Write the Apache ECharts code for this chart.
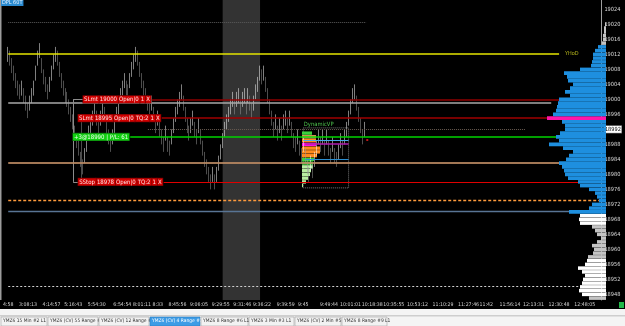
<!DOCTYPE html>
<html><head><meta charset="utf-8">
<script src="https://cdn.jsdelivr.net/npm/echarts@6/dist/echarts.min.js"></script>
<style>html,body{margin:0;padding:0;background:#000;}#c{width:625px;height:326px;}</style>
</head><body><div id="c"></div>
<script>
// ---------- data ----------
const xTickLabels = ['4:58','3:08:13','4:14:57','5:16:43','5:54:30','6:54:54','8:01:11','8:33','8:45:56','9:06:05','9:29:55','9:31:46','9:36:22','9:39:59','9:45','9:49:44','10:01:01','10:18:38','10:35:55','10:53:12','11:10:29','11:27:46','11:42','11:56:14','12:13:31','12:30:48','12:48:05'];
const xTickSlots = [0,10,22,33,45,58,68,76,86,97,108,119,129,141,150,163,174,185,196,208,221,234,243,255,267,280,293];
const slotCount = 302;
const yTickLabels = [19024,19020,19016,19012,19008,19004,19000,18996,18992,18988,18984,18980,18976,18972,18968,18964,18960,18956,18952,18948];
const priceMin = 18946.5, priceMax = 19026.5;
const highlightPrice = 18992;

// 4-range bars: [open, close, low, high]
const ohlc = [
[19011,19014,19010,19014],[19012,19009,19009,19013],[19010,19007,19007,19011],[19008,19005,19005,19009],[19006,19003,19003,19007],
[19004,19001,19001,19005],[19003,19000,19000,19004],[19002,19005,19001,19005],[19002,18999,18999,19003],[19000,18997,18997,19001],
[18998,18995,18995,18999],[18998,19001,18997,19001],[19000,19003,18999,19003],[19002,19005,19001,19005],[19006,19009,19005,19009],
[19010,19013,19009,19013],[19012,19015,19011,19015],[19010,19007,19007,19011],[19007,19004,19004,19008],[19005,19002,19002,19006],
[19003,19000,19000,19004],[19003,19006,19002,19006],[19006,19009,19005,19009],[19009,19012,19008,19012],[19011,19014,19010,19014],
[19012,19009,19009,19013],[19009,19006,19006,19010],[19006,19003,19003,19007],[19004,19001,19001,19005],[19002,18999,18999,19003],
[19001,18998,18998,19002],[18999,18996,18996,19000],[18997,18994,18994,18998],[18995,18992,18992,18996],[18992,18989,18989,18993],
[18990,18987,18987,18991],[18988,18985,18985,18989],[18985,18982,18982,18986],[18983,18980,18980,18984],[18984,18987,18983,18987],
[18987,18990,18986,18990],[18990,18993,18989,18993],[18992,18995,18991,18995],[18994,18997,18993,18997],[18996,18999,18995,18999],
[18996,18993,18993,18997],[18994,18991,18991,18995],[18994,18997,18993,18997],[18997,19000,18996,19000],[18997,18994,18994,18998],
[18994,18991,18991,18995],[18991,18988,18988,18992],[18989,18986,18986,18990],[18989,18992,18988,18992],[18992,18995,18991,18995],
[18995,18998,18994,18998],[18997,19000,18996,19000],[19000,19003,18999,19003],[19002,19005,19001,19005],[19004,19007,19003,19007],
[19004,19001,19001,19005],[19003,19000,19000,19004],[19004,19007,19003,19007],[19007,19010,19006,19010],[19009,19012,19008,19012],
[19011,19014,19010,19014],[19012,19009,19009,19013],[19009,19006,19006,19010],[19006,19003,19003,19007],[19004,19001,19001,19005],
[19002,18999,18999,19003],[19000,18997,18997,19001],[18998,18995,18995,18999],[18998,19001,18997,19001],[18997,18994,18994,18998],
[18994,18991,18991,18995],[18994,18997,18993,18997],[18993,18990,18990,18994],[18991,18988,18988,18992],[18989,18986,18986,18990],
[18990,18993,18989,18993],[18989,18986,18986,18990],[18988,18985,18985,18989],[18989,18992,18988,18992],[18992,18995,18991,18995],
[18995,18998,18994,18998],[18997,19000,18996,19000],[18999,19002,18998,19002],[19001,19004,19000,19004],[19000,18997,18997,19001],
[18997,18994,18994,18998],[18994,18991,18991,18995],[18992,18989,18989,18993],[18992,18995,18991,18995],[18994,18997,18993,18997],
[18993,18990,18990,18994],[18991,18988,18988,18992],[18992,18995,18991,18995],[18991,18988,18988,18992],[18988,18985,18985,18989],
[18985,18982,18982,18986],[18983,18980,18980,18984],[18981,18978,18978,18982],[18979,18976,18976,18980],[18979,18982,18978,18982],
[18979,18976,18976,18980],[18979,18982,18978,18982],[18982,18985,18981,18985],[18985,18988,18984,18988],[18988,18991,18987,18991],
[18991,18994,18990,18994],[18993,18996,18992,18996],[18995,18998,18994,18998],[18997,19000,18996,19000],[18999,19002,18998,19002],
[18999,18996,18996,19000],[18999,19002,18998,19002],[19000,19003,18999,19003],[18999,18996,18996,19000],[18999,19002,18998,19002],
[19000,19003,18999,19003],[18999,18996,18996,19000],[19000,19003,18999,19003],[19000,18997,18997,19001],[18998,18995,18995,18999],
[18998,19001,18997,19001],[19001,19004,19000,19004],[19003,19006,19002,19006],[19006,19009,19005,19009],[19007,19004,19004,19008],
[19006,19009,19005,19009],[19005,19002,19002,19006],[19002,18999,18999,19003],[18999,18996,18996,19000],[18996,18993,18993,18997],
[18993,18990,18990,18994],[18993,18996,18992,18996],[18992,18989,18989,18993],[18992,18995,18991,18995],[18992,18989,18989,18993],
[18993,18996,18992,18996],[18994,18997,18993,18997],[18994,18991,18991,18995],[18994,18997,18993,18997],[18993,18990,18990,18994],
[18990,18987,18987,18991],[18989,18986,18986,18990],[18989,18992,18988,18992],[18988,18985,18985,18989],[18986,18983,18983,18987],
[18987,18990,18986,18990],[18986,18983,18983,18987],[18983,18980,18980,18984],[18981,18978,18978,18982],[18982,18985,18981,18985],
[18982,18979,18979,18983],[18983,18986,18982,18986],[18986,18989,18985,18989],[18989,18992,18988,18992],[18989,18986,18986,18990],
[18989,18992,18988,18992],[18988,18985,18985,18989],[18989,18992,18988,18992],[18988,18985,18985,18989],[18986,18983,18983,18987],
[18987,18990,18986,18990],[18986,18983,18983,18987],[18985,18982,18982,18986],[18985,18988,18984,18988],[18988,18991,18987,18991],
[18988,18985,18985,18989],[18989,18992,18988,18992],[18991,18994,18990,18994],[18994,18997,18993,18997],[18997,19000,18996,19000],
[19000,19003,18999,19003],[19001,19004,19000,19004],[19000,18997,18997,19001],[18997,18994,18994,18998],[18994,18991,18991,18995],
[18991,18988,18988,18992],[18991,18994,18990,18994]
];

// session volume profile (right)
const vpPrices  = [19020,19019,19018,19017,19016,19015,19014,19013,19012,19011,19010,19009,19008,19007,19006,19005,19004,19003,19002,19001,19000,18999,18998,18997,18996,18995,18994,18993,18992,18991,18990,18989,18988,18987,18986,18985,18984,18983,18982,18981,18980,18979,18978,18977,18976,18975,18974,18973,18972,18971,18970,18969,18968,18967,18966,18965,18964,18963,18962,18961,18960,18959,18958,18957,18956,18955,18954,18953,18952,18951,18950,18949,18948,18947];
const vpVolumes = [1,2,2,3,3,4,8,11,13,13,14,15,26,42,39,38,33,36,41,36,47,48,49,50,53,59,44,41,41,46,50,47,57,43,33,37,40,47,44,42,41,38,28,26,17,11,9,7,14,17,37,26,27,26,14,11,9,5,9,14,12,13,18,19,21,28,24,21,23,24,26,27,24,17];
const vpKinds   = ['s','s','s','s','s','s','b','b','b','b','b','b','b','b','b','b','b','b','b','b','b','b','b','b','b','p','b','b','b','b','b','b','b','b','b','b','b','b','b','b','b','b','b','b','b','b','b','b','b','b','b','w','w','w','s','s','s','s','s','s','s','s','s','w','w','w','w','w','w','w','w','w','w','s'];

// DynamicVP (small profile)
const dvpPrices  = [18991,18990,18989,18988,18987,18986,18985,18984,18983,18982,18981,18980,18979,18978,18977];
const dvpVolumes = [10,14,14,14,18,18,15,12,11,11,9,8,6,4,1];
const dvpKinds   = ['g','pe','o','m','o','o','o','g','g','lg','lg','lg','lg','lg','lg'];

const tabNames = ['YMZ6 15 Min #2 L1','YMZ6 (CV) 55 Range #7','YMZ6 (CV) 12 Range #6','YMZ6 (CV) 4 Range #1','YMZ6 8 Range #6 L1','YMZ6 3 Min #3 L1','YMZ6 (CV) 2 Min #5','YMZ6 8 Range #9 L1'];
const activeTab = 3;

// ---------- build ----------
const F = "'Liberation Sans Narrow','DejaVu Sans Condensed','Liberation Sans',sans-serif";
const cats = []; const labelAt = {};
for (let i = 0; i < slotCount; i++) cats.push('s' + i);
xTickSlots.forEach((s, k) => { labelAt[s] = xTickLabels[k]; });
const lvls = []; for (let p = 18947; p <= 19026; p++) lvls.push(String(p));

const vpColor = {b:'#1e8fdf', p:'#ff16a8', w:'#ffffff', s:'#c4c4c4'};
const vpData = lvls.map(l => {
  const k = vpPrices.indexOf(+l);
  if (k < 0) return null;
  return {value: vpVolumes[k], itemStyle:{color: vpColor[vpKinds[k]]}};
});
const dvpColor = {g:'#3ccf3c', pe:'#ffb060', o:'#ff8a1c', m:'#ff10e0', lg:'#b8eea0'};
const dvpData = lvls.map(l => {
  const k = dvpPrices.indexOf(+l);
  if (k < 0) return null;
  return {value: dvpVolumes[k], itemStyle:{color: dvpColor[dvpKinds[k]]}};
});

const cell = (bg, fg, bd) => ({backgroundColor:bg, color:fg, borderColor:bd, borderWidth:0.6, padding:[1,1,0,1], fontSize:6, lineHeight:7, fontFamily:F});
const orderRich = {r: cell('#d00000','#ffe4e4','#6a0000'), g: cell('#12d012','#f0fff0','#086008')};
const seg = (p, x1, x2, color, width, type, extra) => {
  const a = Object.assign({coord:[x1, p], lineStyle:{color:color, width:width, type:type || 'solid'}}, extra || {});
  return [a, {coord:[x2, p]}];
};
const vseg = (x, p1, p2, color) => [{coord:[x, p1], lineStyle:{color:color, width:1, type:'solid'}}, {coord:[x, p2]}];
const orderLabel = (txt) => ({label:{show:true, position:'start', distance:1, formatter:txt, rich:orderRich}});

const levelLines = [
  seg(19020.6, 0, 182, '#5c5c5c', 1, 'dotted'),
  seg(19012.1, 0, 280, '#e4e400', 1.5, 'solid', {label:{show:true, position:'end', distance:6, formatter:'YHoD', color:'#b8b81c', fontSize:5.5, fontFamily:F}}),
  seg(18999.05, 0, 276, '#a8a8a8', 1.5),
  seg(19000, 73, 301, '#8e0000', 1.5, 'solid', orderLabel('{r|SLmt}{r|19000}{r|Open|0}{r|1}{r|X}')),
  seg(18995, 78, 301, '#a00000', 1.5, 'solid', orderLabel('{r|SLmt}{r|18995}{r|Open|0}{r|TQ:2}{r|1}{r|X}')),
  seg(18992.1, 71, 263, '#6a5c52', 1, 'dotted'),
  seg(18990, 62, 301, '#00d400', 1.5, 'solid', orderLabel('{g|+3@18990 | P/L: 61}')),
  seg(18978, 79, 301, '#e00000', 1.2, 'solid', orderLabel('{r|SStop}{r|18978}{r|Open|0}{r|TQ:2}{r|1}{r|X}')),
  seg(18973.2, 0, 301, '#ff9a3c', 1.3, [3,2]),
  seg(18970.2, 0, 301, '#587494', 1.3),
  seg(18950.2, 0, 301, '#d0d0d0', 1, [2,2]),
  seg(18989.2, 150, 173, '#48a8e8', 1),
  seg(18988.3, 151, 173, '#b01cb0', 1.5),
  seg(18984.0, 151, 173, '#2c8ed0', 1),
  seg(18989.3, 182, 183, '#ff2020', 1.5),
  vseg(33, 19000, 18978, '#8c8c8c'),
  seg(19000, 33, 38, '#8c8c8c', 1),
  seg(18978, 33, 38, '#8c8c8c', 1),
  vseg(37, 18995, 18978, '#4a4a4a'),
  seg(18995, 37, 38, '#4a4a4a', 1)
];

const chart = echarts.init(document.getElementById('c'), null, {renderer:'canvas'});
const tabGraphics = [];
let tx = 1;
const tabW = [47,51,51,51,48,46,47,46];
tabNames.forEach((n, i) => {
  const act = i === activeTab;
  tabGraphics.push({type:'rect', shape:{x:tx, y:317, width:tabW[i]-1, height:9}, style:{fill: act ? '#3d9ce6' : '#f2f2f2', stroke: act ? '#2a7cc0' : '#a4a4a4', lineWidth:0.6}, silent:true});
  tabGraphics.push({type:'text', x: tx + 2, y: 318.5, style:{text:n, fill: act ? '#ffffff' : '#303030', font:'4.9px ' + F}, silent:true});
  tx += tabW[i];
});

chart.setOption({
  backgroundColor:'#000000',
  animation:false,
  grid:[
    {left:2, right:19, top:0, height:300},
    {left:506, right:19, top:0, height:300},
    {left:302, width:50, top:0, height:300}
  ],
  xAxis:[
    {gridIndex:0, type:'category', data:cats, boundaryGap:true,
     axisLine:{show:false}, axisTick:{show:false}, splitLine:{show:false},
     axisLabel:{interval:(i) => labelAt[i] !== undefined, formatter:(v, i) => labelAt[i] || '', color:'#d4d4d4', fontSize:5.2, fontFamily:F, margin:2, hideOverlap:false}},
    {gridIndex:1, type:'value', min:0, max:100, inverse:true, show:false},
    {gridIndex:2, type:'value', min:0, max:50, show:false}
  ],
  yAxis:[
    {gridIndex:0, type:'value', position:'right', min:priceMin, max:priceMax,
     axisLine:{show:true, lineStyle:{color:'#a0a0a0', width:1}}, axisTick:{show:false}, splitLine:{show:false},
     axisLabel:{customValues:yTickLabels, margin:3, color:'#dcdcdc', fontSize:5.6, fontFamily:F,
       formatter:(v) => v === highlightPrice ? '{hl|' + v + '}' : String(v),
       rich:{hl:{backgroundColor:'#ffffff', color:'#000000', borderColor:'#606060', borderWidth:0.6, padding:[1,0.5,0,0.5], fontSize:5.6, fontFamily:F}}}},
    {gridIndex:1, type:'category', data:lvls, show:false},
    {gridIndex:2, type:'category', data:lvls, show:false}
  ],
  series:[
    {name:'shade', type:'line', xAxisIndex:0, yAxisIndex:0, data:[], z:1, silent:true,
     markArea:{silent:true, data:[
       [{coord:[109, priceMax], itemStyle:{color:'#333333'}}, {coord:[128, priceMin]}],
       [{coord:[150, 18992.4], itemStyle:{color:'rgba(0,0,0,0)', borderColor:'#7a7a7a', borderWidth:1, borderType:'dotted'}}, {coord:[173, 18976.4]}]
     ]},
     markPoint:{silent:true, symbol:'rect', symbolSize:1, itemStyle:{color:'rgba(0,0,0,0)'},
       data:[{coord:[150, 18993.4], label:{show:true, position:'right', distance:0, formatter:'DynamicVP', color:'#4cc04c', fontSize:5.8, fontFamily:F}}]}},
    {name:'dvp', type:'bar', xAxisIndex:2, yAxisIndex:2, data:dvpData, barCategoryGap:'10%', z:2, silent:true},
    {name:'price', type:'candlestick', xAxisIndex:0, yAxisIndex:0, data:ohlc, barWidth:1, z:3, silent:true,
     itemStyle:{color:'#ffffff', color0:'#9a9a9a', borderColor:'#ffffff', borderColor0:'#9a9a9a', borderWidth:0.5}},
    {name:'levels', type:'line', xAxisIndex:0, yAxisIndex:0, data:[], z:4, silent:true,
     markLine:{silent:true, symbol:['none','none'], label:{show:false}, data:levelLines}},
    {name:'profile', type:'bar', xAxisIndex:1, yAxisIndex:1, data:vpData, barCategoryGap:'6%', z:5, silent:true},
    {name:'levelsTop', type:'line', xAxisIndex:0, yAxisIndex:0, data:[], z:6, silent:true,
     markLine:{silent:true, symbol:['none','none'], label:{show:false},
       data:[seg(18983.2, 0, 301, 'rgba(190,140,100,0.85)', 2.2)]}}
  ],
  graphic:[
    {type:'rect', shape:{x:0, y:0, width:1.5, height:300}, style:{fill:'#9c9c9c'}, silent:true},
    {type:'text', x:1, y:0, style:{text:'DPL 60T', fill:'#e8f4ff', backgroundColor:'#2a8ad0', padding:[0,1,0,1], font:'5.5px ' + F}, silent:true},
    {type:'rect', shape:{x:0, y:309, width:625, height:17}, style:{fill:'#f4f4f4'}, silent:true},
    {type:'rect', shape:{x:0, y:315.5, width:625, height:0.8}, style:{fill:'#a8a8a8'}, silent:true},
    {type:'rect', shape:{x:619, y:302, width:5, height:6}, style:{fill:'#22b84a'}, silent:true}
  ].concat(tabGraphics)
});
</script></body></html>
